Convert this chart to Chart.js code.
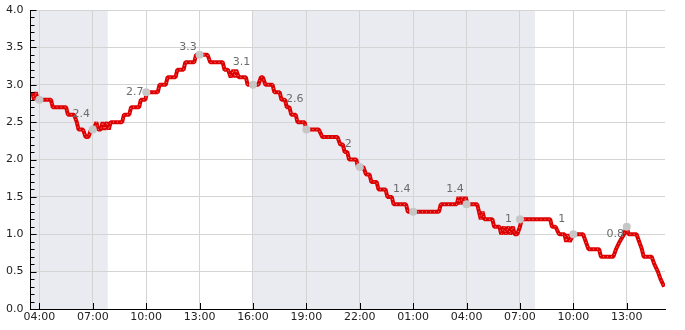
<!DOCTYPE html>
<html><head><meta charset="utf-8">
<script src="https://cdn.jsdelivr.net/npm/chart.js@4"></script>
<style>html,body{margin:0;padding:0;background:#fff;overflow:hidden}</style>
</head><body>
<canvas id="c" width="685" height="330"></canvas>
<script>
// time in hours from day-1 midnight
const levelTimes = [3.6,3.7,3.8,3.9,4.0,4.65,4.75,5.5,5.6,5.95,6.1,6.2,6.45,6.6,6.75,6.9,7.05,7.2,7.3,7.45,7.55,7.65,7.8,7.9,8.0,8.65,8.75,9.05,9.15,9.6,9.7,9.95,10.05,10.65,10.75,11.1,11.2,11.65,11.75,12.1,12.2,12.7,12.8,13.45,13.6,14.3,14.4,14.6,14.75,14.9,15.0,15.05,15.2,15.6,15.7,16.3,16.45,16.55,16.7,17.1,17.2,17.5,17.6,17.8,17.9,18.05,18.15,18.4,18.5,18.9,19.0,19.7,19.9,20.75,20.9,21.05,21.15,21.3,21.4,21.8,21.9,22.2,22.35,22.55,22.65,22.95,23.05,23.45,23.55,23.8,23.9,24.6,24.7,26.45,26.55,27.45,27.55,27.65,27.75,27.85,27.95,28.05,28.6,28.7,28.8,28.9,29.0,29.1,29.45,29.55,29.85,29.95,30.1,30.2,30.35,30.45,30.6,30.7,30.85,31.0,31.1,32.7,32.8,33.0,33.2,33.5,33.6,33.7,33.8,34.0,34.55,34.7,34.85,35.45,35.55,36.25,36.4,36.6,36.85,37.0,37.1,37.55,37.7,37.85,37.95,38.4,38.55,38.75,38.9,39.1];
const levelValues = [2.9,2.8,2.9,2.8,2.8,2.8,2.7,2.7,2.6,2.6,2.5,2.4,2.4,2.3,2.3,2.4,2.4,2.5,2.4,2.4,2.5,2.4,2.5,2.4,2.5,2.5,2.6,2.6,2.7,2.7,2.8,2.8,2.9,2.9,3.0,3.0,3.1,3.1,3.2,3.2,3.3,3.3,3.4,3.4,3.3,3.3,3.2,3.2,3.1,3.2,3.1,3.2,3.1,3.1,3.0,3.0,3.1,3.1,3.0,3.0,2.9,2.9,2.8,2.8,2.7,2.7,2.6,2.6,2.5,2.5,2.4,2.4,2.3,2.3,2.2,2.2,2.1,2.1,2.0,2.0,1.9,1.9,1.8,1.8,1.7,1.7,1.6,1.6,1.5,1.5,1.4,1.4,1.3,1.3,1.4,1.4,1.5,1.4,1.5,1.4,1.5,1.4,1.4,1.3,1.2,1.3,1.2,1.2,1.2,1.1,1.1,1.0,1.1,1.0,1.1,1.0,1.1,1.0,1.0,1.1,1.2,1.2,1.1,1.1,1.0,1.0,0.9,1.0,0.9,1.0,1.0,0.9,0.8,0.8,0.7,0.7,0.8,0.9,1.0,1.1,1.0,1.0,0.9,0.8,0.7,0.7,0.6,0.5,0.4,0.3];
const tickHours = [4,7,10,13,16,19,22,25,28,31,34,37];
const markerValues = [2.8,2.4,2.9,3.4,3.0,2.4,1.9,1.3,1.4,1.2,1.0,1.1];
const labelValues = [null,2.4,2.7,3.3,3.1,2.6,2,1.4,1.4,1,1,0.8];
const labelTexts = ['','2.4','2.7','3.3','3.1','2.6','2','1.4','1.4','1','1','0.8'];
const nightStarts = [3.5,16.0];
const nightEnds = [7.84,31.85];
const yTicks = [0,0.5,1,1.5,2,2.5,3,3.5,4];

Chart.defaults.font.family = 'DejaVu Sans';
Chart.defaults.font.size = 11;

const shadePlugin = {
  id:'shade',
  beforeDraw(chart){
    const {ctx, chartArea:a, scales:{x}} = chart;
    ctx.save();
    ctx.fillStyle = '#eaebf1';
    for(let i=0;i<nightStarts.length;i++){
      const x0 = Math.max(a.left, x.getPixelForValue(nightStarts[i]));
      const x1 = Math.min(a.right, x.getPixelForValue(nightEnds[i]));
      ctx.fillRect(x0, a.top, x1-x0, a.bottom-a.top);
    }
    ctx.restore();
  }
};
const tickPlugin = {
  id:'inticks',
  afterDraw(chart){
    const {ctx, chartArea:a, scales:{x,y}} = chart;
    ctx.save();
    ctx.strokeStyle = '#000';
    ctx.lineWidth = 1;
    ctx.beginPath();
    for(let k=0;k<=40;k++){
      const v = k/10;
      const py = Math.round(y.getPixelForValue(v))+0.5;
      const len = (k%5===0)?6:4;
      ctx.moveTo(a.left, py); ctx.lineTo(a.left+len, py);
    }
    for(const h of tickHours){
      const px = Math.round(x.getPixelForValue(h))+0.5;
      ctx.moveTo(px, a.bottom); ctx.lineTo(px, a.bottom-6);
    }
    ctx.stroke();
    ctx.restore();
  }
};
const labelPlugin = {
  id:'vlabels',
  afterDatasetsDraw(chart){
    const {ctx, scales:{x,y}} = chart;
    ctx.save();
    ctx.fillStyle = '#6b6b6b';
    ctx.font = '11px "DejaVu Sans"';
    ctx.textAlign = 'center';
    ctx.textBaseline = 'middle';
    for(let i=0;i<tickHours.length;i++){
      if(labelValues[i]===null) continue;
      ctx.fillText(labelTexts[i], x.getPixelForValue(tickHours[i])-11.5, y.getPixelForValue(labelValues[i])-15.5);
    }
    ctx.restore();
  }
};

const levelPoints = levelTimes.map((t,i)=>({x:t,y:levelValues[i]}));

new Chart(document.getElementById('c'), {
  type:'scatter',
  data:{
    datasets:[
      {
        data: tickHours.map((h,i)=>({x:h,y:markerValues[i]})),
        showLine:false, pointRadius:4, pointBackgroundColor:'#c6c6c6', pointBorderWidth:0, order:0
      },
      {
        data: levelPoints,
        showLine:true, borderColor:'rgba(255,255,255,0.55)', borderWidth:1, borderDash:[1,3],
        borderJoinStyle:'bevel', pointRadius:0, tension:0, order:1
      },
      {
        data: levelPoints,
        showLine:true, borderColor:'#dd0000', borderWidth:4, borderJoinStyle:'bevel', pointRadius:0, tension:0, order:2
      }
    ]
  },
  options:{
    responsive:false, animation:false,
    layout:{padding:{left:0,right:20,top:10,bottom:0}},
    plugins:{legend:{display:false}, tooltip:{enabled:false}},
    scales:{
      x:{
        type:'linear', min:3.5, max:39.15,
        afterBuildTicks(s){ s.ticks = tickHours.map(v=>({value:v})); },
        afterFit(s){ s.height = 21; s.paddingLeft = 0; s.paddingRight = 0; },
        ticks:{ color:'#222', padding:2, maxRotation:0, autoSkip:false,
          callback(v){ return String(((v%24)+24)%24).padStart(2,'0')+':00'; } },
        grid:{ color:'#d4d4d4', drawTicks:false },
        border:{ color:'#000', width:1 }
      },
      y:{
        min:0, max:4,
        afterBuildTicks(s){ s.ticks = yTicks.map(v=>({value:v})); },
        afterFit(s){ s.width = 30.5; s.paddingTop = 0; s.paddingBottom = 0; },
        ticks:{ color:'#222', padding:7, callback(v){ return Number(v).toFixed(1); } },
        grid:{ color:'#d4d4d4', drawTicks:false },
        border:{ color:'#000', width:1 }
      }
    }
  },
  plugins:[shadePlugin, tickPlugin, labelPlugin]
});
</script>
</body></html>
